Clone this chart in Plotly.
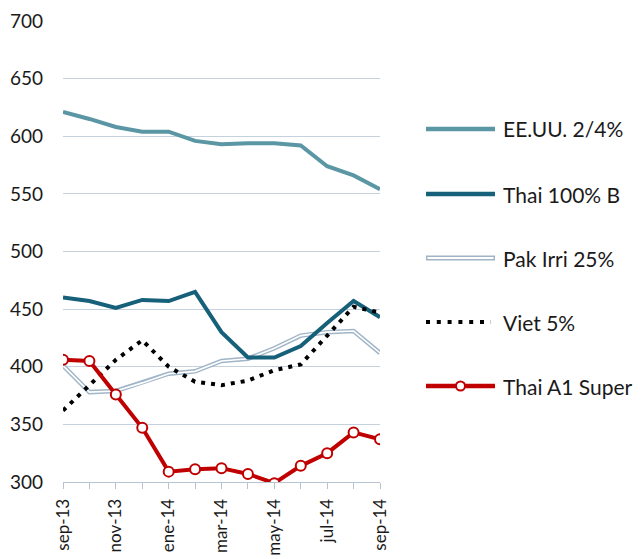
import plotly.graph_objects as go

months = ["sep-13", "oct-13", "nov-13", "dic-13", "ene-14", "feb-14", "mar-14",
          "abr-14", "may-14", "jun-14", "jul-14", "ago-14", "sep-14"]
tick_labels = ["sep-13", "", "nov-13", "", "ene-14", "", "mar-14", "", "may-14", "", "jul-14", "", "sep-14"]

eeuu = [621, 615, 608, 604, 604, 596, 593, 594, 594, 592, 574, 566, 554]
thai100b = [460, 457, 451, 458, 457, 465, 430, 408, 408, 418, 438, 457, 443]
pak_irri = [401, 378, 379, 386, 394, 396, 405, 407, 416, 427, 430, 431, 412]
viet5 = [362, 384, 406, 423, 400, 387, 384, 388, 397, 402, 427, 452, 447]
thai_a1 = [406, 405, 376, 347, 309, 311, 312, 307, 299, 314, 325, 343, 337]

names = ["EE.UU. 2/4%", "Thai 100% B", "Pak Irri 25%", "Viet 5%", "Thai A1 Super"]

C_EEUU = "#5b96a4"
C_THAI = "#16607a"
C_PAK = "#a0b5c7"
C_VIET = "#000000"
C_RED = "#c00000"
FONT = "Lato, Open Sans, sans-serif"

x = list(range(len(months)))
fig = go.Figure()

fig.add_trace(go.Scatter(x=x, y=eeuu, mode="lines", name=names[0],
                         line=dict(color=C_EEUU, width=4), showlegend=False))
fig.add_trace(go.Scatter(x=x, y=pak_irri, mode="lines", name=names[2],
                         line=dict(color=C_PAK, width=4.5), showlegend=False))
fig.add_trace(go.Scatter(x=x, y=pak_irri, mode="lines", name=names[2],
                         line=dict(color="white", width=1.6), showlegend=False, hoverinfo="skip"))
fig.add_trace(go.Scatter(x=x, y=thai100b, mode="lines", name=names[1],
                         line=dict(color=C_THAI, width=4), showlegend=False))
fig.add_trace(go.Scatter(x=x, y=viet5, mode="lines", name=names[3],
                         line=dict(color=C_VIET, width=4, dash="4px,6px"), showlegend=False))
fig.add_trace(go.Scatter(x=x, y=thai_a1, mode="lines+markers", name=names[4],
                         line=dict(color=C_RED, width=4),
                         marker=dict(symbol="circle", size=10, color="white",
                                     line=dict(color=C_RED, width=2)),
                         showlegend=False))

# custom legend (paper coordinates)
L, T, W, H = 63, 21, 317, 461
def px(v):
    return (v - L) / W
def py(v):
    return (T + H - v) / H

shapes = []
annotations = []
leg_y = [129, 194, 258, 322, 386]
x0, x1, xt = 426, 495, 501
for i, yy in enumerate(leg_y):
    if i == 0:
        shapes.append(dict(type="line", xref="paper", yref="paper", x0=px(x0), x1=px(x1), y0=py(yy), y1=py(yy),
                           line=dict(color=C_EEUU, width=4.5)))
    elif i == 1:
        shapes.append(dict(type="line", xref="paper", yref="paper", x0=px(x0), x1=px(x1), y0=py(yy), y1=py(yy),
                           line=dict(color=C_THAI, width=4.5)))
    elif i == 2:
        shapes.append(dict(type="line", xref="paper", yref="paper", x0=px(x0), x1=px(x1), y0=py(yy), y1=py(yy),
                           line=dict(color=C_PAK, width=5)))
        shapes.append(dict(type="line", xref="paper", yref="paper", x0=px(x0 + 1.5), x1=px(x1 - 1.5), y0=py(yy), y1=py(yy),
                           line=dict(color="white", width=1.8)))
    elif i == 3:
        shapes.append(dict(type="line", xref="paper", yref="paper", x0=px(x0), x1=px(x1 - 4), y0=py(yy), y1=py(yy),
                           line=dict(color=C_VIET, width=4, dash="4px,6.8px")))
    else:
        shapes.append(dict(type="line", xref="paper", yref="paper", x0=px(x0), x1=px(x1), y0=py(yy), y1=py(yy),
                           line=dict(color=C_RED, width=4.5)))
        r = 4.5
        shapes.append(dict(type="circle", xref="paper", yref="paper",
                           x0=px(460.5 - r), x1=px(460.5 + r), y0=py(yy + r), y1=py(yy - r),
                           fillcolor="white", line=dict(color=C_RED, width=2)))
    annotations.append(dict(x=px(xt), y=py(yy), xref="paper", yref="paper", text=names[i],
                            showarrow=False, xanchor="left", yanchor="middle",
                            font=dict(size=21, color="#1a1a1a", family=FONT)))

fig.update_layout(
    width=641, height=559,
    margin=dict(l=L, r=641 - 380, t=T, b=559 - 482, autoexpand=False),
    paper_bgcolor="white", plot_bgcolor="white",
    font=dict(family=FONT, size=19, color="#1a1a1a"),
    shapes=shapes, annotations=annotations,
    showlegend=False,
)
fig.update_xaxes(range=[0, 12], tickmode="array", tickvals=x, ticktext=tick_labels,
                 tickangle=-90, showgrid=False, zeroline=False, automargin=False,
                 showline=True, linecolor="#b8c4cf", linewidth=1,
                 ticks="outside", ticklen=6, tickcolor="#b8c4cf",
                 ticklabelstandoff=3, tickfont=dict(size=17))
fig.update_yaxes(range=[300, 700], tickvals=[300, 350, 400, 450, 500, 550, 600, 650, 700],
                 showgrid=True, gridcolor="#c5d1dc", gridwidth=1, zeroline=False, automargin=False,
                 showline=False, ticks="", ticklabelstandoff=19, tickfont=dict(size=19))

fig.write_html("out.html", config={"displayModeBar": False},
               post_script="document.body.style.margin='0px';document.body.style.overflow='hidden';")
